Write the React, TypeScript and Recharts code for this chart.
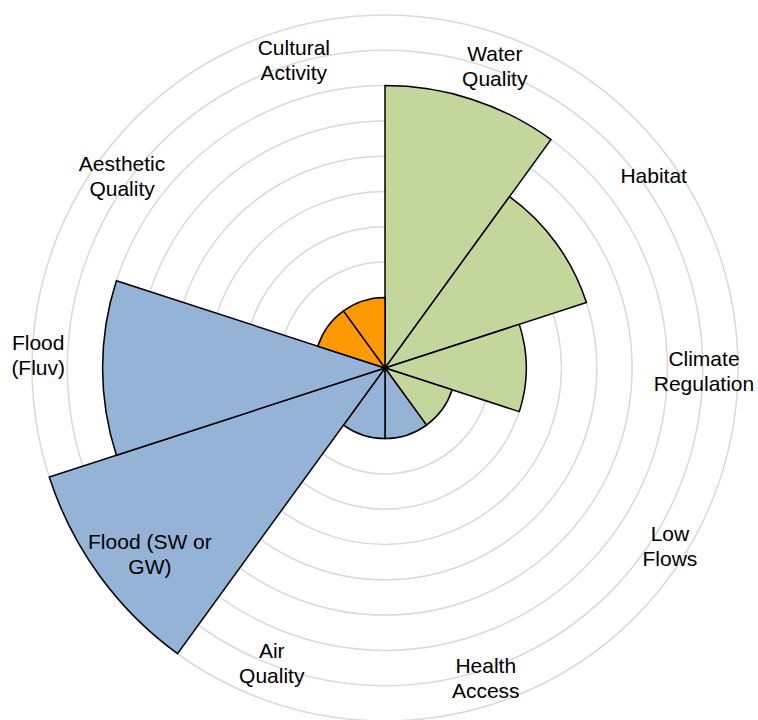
import {
  Cell,
  PolarAngleAxis,
  PolarGrid,
  PolarRadiusAxis,
  RadialBar,
  RadialBarChart,
} from 'recharts';

// Ecosystem service scores, clockwise from 12 o'clock
const CATEGORIES = [
  'Water Quality',
  'Habitat',
  'Climate Regulation',
  'Low Flows',
  'Health Access',
  'Air Quality',
  'Flood (SW or GW)',
  'Flood (Fluv)',
  'Aesthetic Quality',
  'Cultural Activity',
];
const SCORES = [8, 6, 4, 2, 2, 2, 10, 8, 2, 2];
const GROUPS = ['green', 'green', 'green', 'green', 'blue', 'blue', 'blue', 'blue', 'orange', 'orange'];
const LABEL_LINES = [
  ['Water', 'Quality'],
  ['Habitat'],
  ['Climate', 'Regulation'],
  ['Low', 'Flows'],
  ['Health', 'Access'],
  ['Air', 'Quality'],
  ['Flood (SW or', 'GW)'],
  ['Flood', '(Fluv)'],
  ['Aesthetic', 'Quality'],
  ['Cultural', 'Activity'],
];
const RADIUS_TICKS = [0, 1, 2, 3, 4, 5, 6, 7, 8, 9, 10];

const GROUP_COLORS: Record<string, string> = {
  green: '#c3d69b',
  blue: '#95b3d7',
  orange: '#ff9900',
};

const CX = 385;
const CY = 368;
const OUTER = 353;
const HALF_BAND = 180 / CATEGORIES.length;
// label placement per category: [radius px, clockwise nudge in degrees]
const LABEL_ADJUST: [number, number][] = [
  [321, 2],
  [330, 0.5],
  [319, 0.7],
  [336, -4],
  [326, 0],
  [316, 3],
  [300, -2.4],
  [347, 2],
  [325, 0],
  [321, 1.5],
];

const data = CATEGORIES.map((name, i) => ({ name, score: SCORES[i] }));

// ticks land on the band start; move them to the middle of each wedge
function CategoryTick(props: any) {
  const { x, y, index } = props;
  const [r, nudge] = LABEL_ADJUST[index] ?? [325, 0];
  const a = Math.atan2(-(y - CY), x - CX) + ((HALF_BAND - nudge) * Math.PI) / 180;
  const px = CX + r * Math.cos(a);
  const py = CY - r * Math.sin(a);
  const lines = LABEL_LINES[index] ?? [String(props.payload?.value)];
  const lineH = 25;
  const top = py - ((lines.length - 1) * lineH) / 2 + 7;
  return (
    <text
      x={px}
      y={top}
      textAnchor="middle"
      fill="#000"
      fontSize={21}
      fontFamily="'Liberation Sans', Arial, sans-serif"
    >
      {lines.map((ln, k) => (
        <tspan key={k} x={px} y={top + k * lineH}>
          {ln}
        </tspan>
      ))}
    </text>
  );
}

export default function App() {
  return (
    <div style={{ position: 'absolute', left: 0, top: 0 }}>
      <RadialBarChart
        width={758}
        height={720}
        data={data}
        cx={CX}
        cy={CY}
        innerRadius={0}
        outerRadius={OUTER}
        startAngle={54}
        endAngle={-306}
        layout="centric"
        barCategoryGap={0}
        margin={{ top: 0, right: 0, bottom: 0, left: 0 }}
      >
        <PolarGrid gridType="circle" radialLines={false} stroke="#d9d9d9" strokeWidth={1.5} />
        <PolarRadiusAxis
          type="number"
          domain={[0, 10]}
          ticks={RADIUS_TICKS}
          tick={false}
          axisLine={false}
        />
        <PolarAngleAxis
          type="category"
          dataKey="name"
          axisLine={false}
          tickLine={false}
          tick={CategoryTick}
        />
        <RadialBar
          dataKey="score"
          stroke="#000"
          strokeWidth={1.5}
          isAnimationActive={false}
        >
          {data.map((d, i) => (
            <Cell key={d.name} fill={GROUP_COLORS[GROUPS[i]]} />
          ))}
        </RadialBar>
      </RadialBarChart>
    </div>
  );
}
